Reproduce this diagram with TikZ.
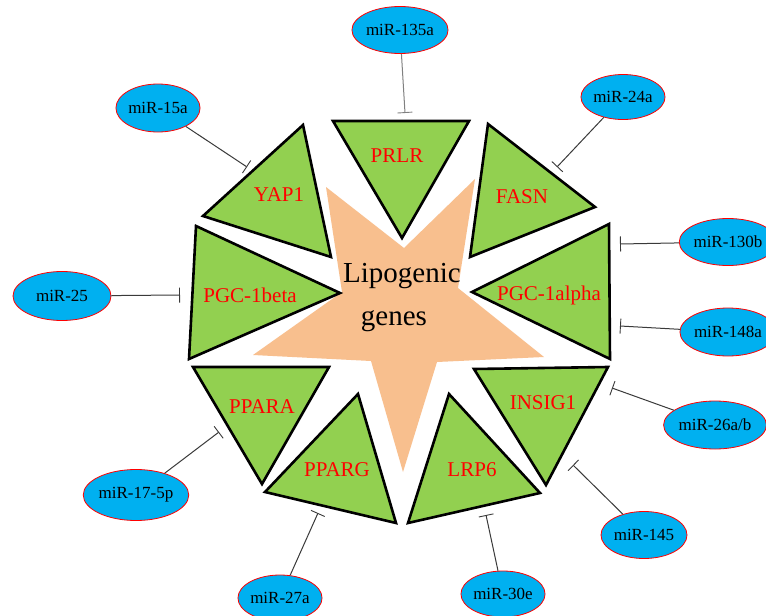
\documentclass[tikz,border=0pt]{standalone}
\usepackage{fontspec}
\setmainfont{Liberation Serif}
\usetikzlibrary{shapes.geometric,arrows.meta}
\definecolor{leaf}{HTML}{92D050}
\definecolor{peach}{HTML}{F8BF8E}
\definecolor{sky}{HTML}{00B0F0}
\definecolor{inh}{HTML}{3A3A3A}
\begin{document}
\begin{tikzpicture}[x=1pt,y=-1pt,
  tri/.style={fill=leaf,draw=black,line width=2.6pt,line join=miter},
  gene/.style={text=red,font=\fontsize{21}{21}\selectfont,inner sep=0,anchor=base},
  mir/.style={ellipse,fill=sky,draw=red,line width=0.8pt,inner sep=0,
    font=\fontsize{17}{17}\selectfont,minimum width=86pt,minimum height=47pt},
  inhib/.style={draw=inh,line width=1pt,-{Bar[width=15pt,line width=0.9pt]}}]
\useasboundingbox (0,0) rectangle (766,616);
\fill[white] (0,0) rectangle (766,616);
% star
\fill[peach] (326,187) -- (404,248) -- (475,179) -- (458,288) -- (544,357)
  -- (437,362) -- (403,472) -- (371,361) -- (253,355) -- (342,292) -- cycle;
\node[anchor=base,inner sep=0,font=\fontsize{29}{29}\selectfont] (lip1) at (402,282) {Lipogenic};
\node[anchor=base,inner sep=0,font=\fontsize{29}{29}\selectfont] (lip2) at (394,325) {genes};
% triangles
\draw[tri] (333,121) -- (469,121) -- (402,238) -- cycle;
\draw[tri] (303,125) -- (203,216) -- (331,257) -- cycle;
\draw[tri] (488,124) -- (595,207) -- (470,257) -- cycle;
\draw[tri] (196,226) -- (340,293) -- (189,359) -- cycle;
\draw[tri] (609,224) -- (472,292) -- (610,359) -- cycle;
\draw[tri] (193,367) -- (329,367) -- (262,484) -- cycle;
\draw[tri] (358,394) -- (265,492) -- (396,523) -- cycle;
\draw[tri] (449,394) -- (408,523) -- (540,493) -- cycle;
\draw[tri] (474,369) -- (608,367) -- (546,485) -- cycle;
% gene labels
\node[gene] (prlr) at (397,162) {PRLR};
\node[gene] (yap) at (279,201) {YAP1};
\node[gene] (fasn) at (522,203) {FASN};
\node[gene] (pgcb) at (250,302) {PGC-1beta};
\node[gene] (pgca) at (549,300) {PGC-1alpha};
\node[gene] (ppara) at (262,413) {PPARA};
\node[gene] (pparg) at (337,476) {PPARG};
\node[gene] (lrp) at (472,476) {LRP6};
\node[gene] (insig) at (543,409) {INSIG1};
% miRNAs
\node[mir,minimum width=87pt] (m135) at (400,30) {miR-135a};
\node[mir,minimum width=78pt,minimum height=48pt] (m15) at (158,108) {miR-15a};
\node[mir,minimum width=84pt,minimum height=45pt] (m24) at (623,97) {miR-24a};
\node[mir,minimum width=82pt] (m130) at (728,242) {miR-130b};
\node[mir,minimum width=82pt,minimum height=48pt] (m148) at (728,332) {miR-148a};
\node[mir,minimum width=98pt,minimum height=49pt] (m25) at (62,296) {miR-25};
\node[mir,minimum width=88pt,minimum height=48pt] (m26) at (715,425) {miR-26a/b};
\node[mir,minimum width=86pt] (m145) at (644,535) {miR-145};
\node[mir,minimum width=78pt,minimum height=46pt] (m30) at (503,594) {miR-30e};
\node[mir,minimum width=78pt,minimum height=46pt] (m27) at (280,598) {miR-27a};
\node[mir,minimum width=98pt,minimum height=51pt] (m17) at (136,495) {miR-17-5p};
% targets
\coordinate (t135) at (405,113);
\coordinate (t15) at (247,167);
\coordinate (t24) at (557,167);
\coordinate (t130) at (620,244);
\coordinate (t148) at (620,326);
\coordinate (t25) at (180,295);
\coordinate (t26) at (612,388);
\coordinate (t145) at (573,465);
\coordinate (t30) at (486,515);
\coordinate (t27) at (318,513);
\coordinate (t17) at (219,432);
% connectors
\draw[inhib,draw=gray] (m135) -- (t135);
\draw[inhib] (m15) -- (t15);
\draw[inhib] (m24) -- (t24);
\draw[inhib] (m130) -- (t130);
\draw[inhib] (m148) -- (t148);
\draw[inhib] (m25) -- (t25);
\draw[inhib] (m26) -- (t26);
\draw[inhib] (m145) -- (t145);
\draw[inhib] (m30) -- (t30);
\draw[inhib] (m27) -- (t27);
\draw[inhib] (m17) -- (t17);
\end{tikzpicture}
\end{document}
